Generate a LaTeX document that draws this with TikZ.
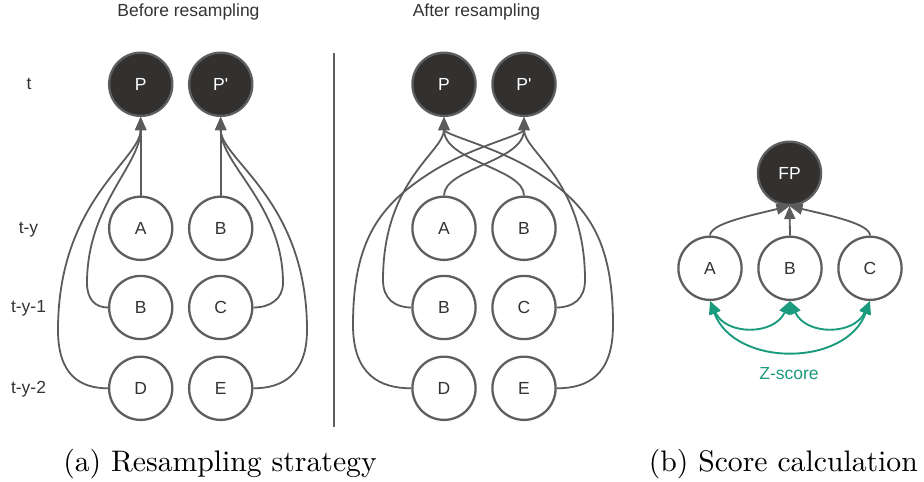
\documentclass[tikz,border=0pt]{standalone}
\usepackage{fontspec}
\newfontfamily\lblfont{Liberation Sans}
\newfontfamily\capfont{lmroman10-regular.otf}
\usetikzlibrary{arrows.meta}
\definecolor{darkfill}{HTML}{323130}
\definecolor{edgegray}{HTML}{5E5E5E}
\definecolor{linegray}{HTML}{5B5B5B}
\definecolor{txtgray}{HTML}{333333}
\definecolor{zgreen}{HTML}{1A9B7D}
\tikzset{
  lbl/.style={font=\lblfont\fontsize{17.5}{21}\selectfont, text=txtgray, inner sep=0pt},
  darknode/.style={circle, fill=darkfill, draw=edgegray, line width=2.3pt, minimum size=63.2pt, inner sep=0pt, font=\lblfont\fontsize{17.5}{21}\selectfont, text=white},
  lightnode/.style={circle, fill=white, draw=edgegray, line width=2.3pt, minimum size=63.2pt, inner sep=0pt, font=\lblfont\fontsize{17.5}{21}\selectfont, text=txtgray},
  conn/.style={draw=linegray, line width=1.8pt, -{Triangle[width=11pt,length=13pt]}},
  zconn/.style={draw=zgreen, line width=1.9pt, {Triangle[width=11pt,length=13pt]}-{Triangle[width=11pt,length=13pt]}},
  capt/.style={font=\capfont\fontsize{29.7}{34}\selectfont, inner sep=0pt, anchor=base},
}
\begin{document}
\begin{tikzpicture}[x=1pt,y=1pt]
\useasboundingbox (0,0) rectangle (924,-482);
% titles
\node[lbl, anchor=base] (t1) at (188.5,-16.7) {Before resampling};
\node[lbl, anchor=base] (t2) at (476.5,-16.7) {After resampling};
% row labels
\node[lbl, anchor=base] (r0) at (29,-89.5) {t};
\node[lbl, anchor=base] (r1) at (28.5,-233.5) {t-y};
\node[lbl, anchor=base] (r2) at (28.5,-312.7) {t-y-1};
\node[lbl, anchor=base] (r3) at (28.5,-393.5) {t-y-2};
% separator
\coordinate (s1) at (334,-53);
\coordinate (s2) at (334,-427);
\draw[draw=edgegray, line width=2.5pt] (s1) -- (s2);
% left panel nodes
\node[darknode] (P1) at (140.7,-84.3) {P};
\node[darknode] (Q1) at (220.7,-84.3) {P'};
\node[lightnode] (A1) at (140.7,-228.3) {A};
\node[lightnode] (B1) at (220.7,-228.3) {B};
\node[lightnode] (B2) at (140.7,-307.5) {B};
\node[lightnode] (C2) at (220.7,-307.5) {C};
\node[lightnode] (D3) at (140.7,-388.3) {D};
\node[lightnode] (E3) at (220.7,-388.3) {E};
% left panel connectors
\draw[conn] (A1.north) -- (P1.south);
\draw[conn] (B2.west) .. controls (95,-307.5) and (87,-299) .. (87,-283) .. controls (87,-205) and (140.7,-165) .. (P1.south);
\draw[conn] (D3.west) .. controls (80,-388.3) and (58,-375) .. (58,-330) .. controls (58,-200) and (140.7,-160) .. (P1.south);
\draw[conn] (B1.north) -- (Q1.south);
\draw[conn] (C2.east) .. controls (270,-307.5) and (283,-299) .. (283,-283) .. controls (283,-205) and (220.7,-165) .. (Q1.south);
\draw[conn] (E3.east) .. controls (282,-388.3) and (307,-375) .. (307,-330) .. controls (307,-200) and (220.7,-160) .. (Q1.south);
% right panel nodes
\node[darknode] (P2) at (444,-84.3) {P};
\node[darknode] (Q2) at (524,-84.3) {P'};
\node[lightnode] (A4) at (444,-228.3) {A};
\node[lightnode] (B4) at (524,-228.3) {B};
\node[lightnode] (B5) at (444,-307.5) {B};
\node[lightnode] (C5) at (524,-307.5) {C};
\node[lightnode] (D6) at (444,-388.3) {D};
\node[lightnode] (E6) at (524,-388.3) {E};
% right panel connectors
\draw[conn] (A4.north) .. controls (444,-168) and (524,-162) .. (Q2.south);
\draw[conn] (B4.north) .. controls (524,-168) and (444,-162) .. (P2.south);
\draw[conn] (B5.west) .. controls (395,-307.5) and (383,-299) .. (383,-280) .. controls (383,-180) and (444,-152) .. (P2.south);
\draw[conn] (D6.west) .. controls (380,-388.3) and (353,-375) .. (353,-325) .. controls (353,-240) and (380,-205) .. (430,-173) .. controls (470,-147) and (524,-135) .. (Q2.south);
\draw[conn] (C5.east) .. controls (573,-307.5) and (585,-299) .. (585,-280) .. controls (585,-180) and (524,-152) .. (Q2.south);
\draw[conn] (E6.east) .. controls (588,-388.3) and (613,-375) .. (613,-325) .. controls (613,-240) and (588,-205) .. (538,-173) .. controls (498,-147) and (444,-135) .. (P2.south);
% score panel
\node[darknode] (FP) at (789.5,-173.3) {FP};
\node[lightnode] (SA) at (710,-268.3) {A};
\node[lightnode] (SB) at (790,-268.3) {B};
\node[lightnode] (SC) at (870,-268.3) {C};
\draw[conn] (SA.north) .. controls (710,-224) and (748,-216) .. (FP.south);
\draw[conn] (SB.north) -- (FP.south);
\draw[conn] (SC.north) .. controls (870,-224) and (832,-216) .. (FP.south);
\draw[zconn] (SA.south) to[out=-65,in=-115,looseness=1.22] (SB.south);
\draw[zconn] (SB.south) to[out=-65,in=-115,looseness=1.22] (SC.south);
\draw[zconn] (SA.south) to[out=-70,in=-110,looseness=1.13] (SC.south);
\node[lbl, text=zgreen] (zs) at (789,-373.3) {Z-score};
% captions
\node[capt] (ca) at (220,-471.7) {(a) Resampling strategy};
\node[capt] (cb) at (783.3,-471.7) {(b) Score calculation};
\end{tikzpicture}
\end{document}
